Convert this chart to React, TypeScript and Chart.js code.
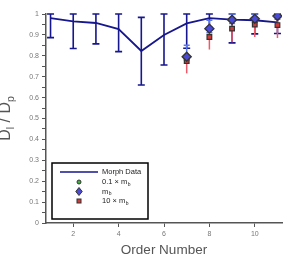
import React, { useEffect, useRef } from 'react';
import { Chart, registerables } from 'chart.js';
Chart.register(...registerables);

const FONT = '"Liberation Sans", Arial, sans-serif';

// Morphological data
const orders = [1, 2, 3, 4, 5, 6, 7, 8, 9, 10, 11];
const morphValues = [0.98, 0.965, 0.957, 0.928, 0.823, 0.9, 0.955, 0.98, 0.973, 0.97, 0.96];
const morphLow = [0.887, 0.835, 0.857, 0.82, 0.66, 0.756, 0.836, 0.935, 0.862, 0.905, 0.907];
const morphHigh = [1.0, 1.0, 1.0, 1.0, 0.984, 1.0, 1.0, 1.0, 1.0, 1.0, 1.0];

// Model results
const modelOrders = [7, 8, 9, 10, 11];
const lowMassValues = [0.8, 0.935, 0.975, 0.98, 0.99];
const baseMassValues = [0.795, 0.93, 0.973, 0.977, 0.99];
const baseMassLow = [0.78, 0.91, 0.955, 0.96, 0.975];
const baseMassHigh = [0.85, 0.97, 1.0, 1.0, 1.0];
const highMassValues = [0.775, 0.89, 0.93, 0.95, 0.947];
const highMassLow = [0.716, 0.83, 0.865, 0.89, 0.885];
const highMassHigh = [0.81, 0.955, 0.97, 0.985, 0.98];

const xTicks = [2, 4, 6, 8, 10];
const yTicks = [0, 0.1, 0.2, 0.3, 0.4, 0.5, 0.6, 0.7, 0.8, 0.9, 1];
const yMinorTicks = [0.05, 0.15, 0.25, 0.35, 0.45, 0.55, 0.65, 0.75, 0.85, 0.95];

const legendLabels = [
  { text: 'Morph Data', sub: '' },
  { text: '0.1 × m', sub: 'b' },
  { text: 'm', sub: 'b' },
  { text: '10 × m', sub: 'b' },
];
const xTitle = 'Order Number';

const NAVY = '#16168e';
const DIAMOND = '#4a4ad6';
const SQUARE = '#d23a3a';
const GREEN = '#3cb43c';
const EDGE = '#333333';

export default function App() {
  const ref = useRef<HTMLCanvasElement>(null);
  useEffect(() => {
    document.body.style.margin = '0';
    const canvas = ref.current!;

    const drawBars = (chart: any, xs: number[], lows: number[], highs: number[], color: string, width: number, cap: number) => {
      const ctx = chart.ctx;
      const xs_ = chart.scales.x;
      const ys_ = chart.scales.y;
      ctx.save();
      ctx.strokeStyle = color;
      ctx.lineWidth = width;
      for (let i = 0; i < xs.length; i++) {
        const x = xs_.getPixelForValue(xs[i]);
        const y1 = ys_.getPixelForValue(lows[i]);
        const y2 = ys_.getPixelForValue(highs[i]);
        ctx.beginPath();
        ctx.moveTo(x, y1);
        ctx.lineTo(x, y2);
        if (cap > 0) {
          ctx.moveTo(x - cap, y1);
          ctx.lineTo(x + cap, y1);
          ctx.moveTo(x - cap, y2);
          ctx.lineTo(x + cap, y2);
        }
        ctx.stroke();
      }
      ctx.restore();
    };

    const errorBars = {
      id: 'errorBars',
      beforeDatasetsDraw(chart: any) {
        drawBars(chart, orders, morphLow, morphHigh, NAVY, 1.6, 3.5);
        drawBars(chart, modelOrders, baseMassLow, baseMassHigh, '#5a78ee', 1.5, 3);
        drawBars(chart, modelOrders, highMassLow, highMassHigh, '#ee5a6a', 1.5, 0);
      },
    };

    const drawSubText = (ctx: any, x: number, y: number, text: string, sub: string, size: number, subSize: number, subOff: number) => {
      ctx.font = `${size}px ${FONT}`;
      ctx.fillText(text, x, y);
      const w = ctx.measureText(text).width;
      if (sub) {
        ctx.font = `${subSize}px ${FONT}`;
        ctx.fillText(sub, x + w + 0.5, y + subOff);
      }
    };

    const overlay = {
      id: 'overlay',
      afterDraw(chart: any) {
        const ctx = chart.ctx;
        const area = chart.chartArea;
        ctx.save();
        // Legend box
        const bx = area.left + 6, by = area.top + 149, bw = 96, bh = 56;
        ctx.fillStyle = '#ffffff';
        ctx.fillRect(bx, by, bw, bh);
        ctx.strokeStyle = '#000';
        ctx.lineWidth = 1.5;
        ctx.strokeRect(bx, by, bw, bh);
        const rowY = [by + 9, by + 19, by + 28.5, by + 38];
        const mx = bx + 27;
        // line
        ctx.strokeStyle = NAVY;
        ctx.lineWidth = 1.6;
        ctx.beginPath();
        ctx.moveTo(bx + 8, rowY[0]);
        ctx.lineTo(bx + 46, rowY[0]);
        ctx.stroke();
        // green circle
        ctx.lineWidth = 1;
        ctx.strokeStyle = EDGE;
        ctx.fillStyle = GREEN;
        ctx.beginPath();
        ctx.arc(mx, rowY[1], 2, 0, Math.PI * 2);
        ctx.fill();
        ctx.stroke();
        // diamond
        ctx.fillStyle = DIAMOND;
        ctx.beginPath();
        ctx.moveTo(mx, rowY[2] - 4);
        ctx.lineTo(mx + 3.2, rowY[2]);
        ctx.lineTo(mx, rowY[2] + 4);
        ctx.lineTo(mx - 3.2, rowY[2]);
        ctx.closePath();
        ctx.fill();
        ctx.stroke();
        // square
        ctx.fillStyle = SQUARE;
        ctx.fillRect(mx - 2, rowY[3] - 2, 4, 4);
        ctx.strokeRect(mx - 2, rowY[3] - 2, 4, 4);
        // texts
        ctx.fillStyle = '#222';
        ctx.textBaseline = 'middle';
        ctx.textAlign = 'left';
        legendLabels.forEach((l, i) => {
          drawSubText(ctx, bx + 50, rowY[i], l.text, l.sub, 7.5, 5, 2.5);
        });
        // X title
        ctx.fillStyle = '#555';
        ctx.textAlign = 'center';
        ctx.textBaseline = 'middle';
        ctx.font = `13.5px ${FONT}`;
        ctx.fillText(xTitle, (area.left + area.right) / 2, 250.5);
        // Y title
        ctx.translate(9.5, (area.top + area.bottom) / 2);
        ctx.rotate(-Math.PI / 2);
        ctx.textAlign = 'left';
        ctx.textBaseline = 'alphabetic';
        const big = `16px ${FONT}`;
        const small = `10.5px ${FONT}`;
        const parts = [
          { t: 'D', f: big, dy: 0 },
          { t: 'l', f: small, dy: 4 },
          { t: ' / ', f: big, dy: 0 },
          { t: 'D', f: big, dy: 0 },
          { t: 'p', f: small, dy: 4 },
        ];
        let total = 0;
        parts.forEach((p) => { ctx.font = p.f; total += ctx.measureText(p.t).width; });
        let cx = -total / 2;
        parts.forEach((p) => {
          ctx.font = p.f;
          ctx.fillText(p.t, cx, p.dy);
          cx += ctx.measureText(p.t).width;
        });
        ctx.restore();
      },
    };

    const chart = new Chart(canvas, {
      type: 'line',
      data: {
        datasets: [
          {
            label: 'Morph Data',
            data: orders.map((o, i) => ({ x: o, y: morphValues[i] })),
            borderColor: NAVY,
            borderWidth: 1.8,
            pointRadius: 0,
            fill: false,
            order: 4,
          },
          {
            label: '10 × m_b',
            data: modelOrders.map((o, i) => ({ x: o, y: highMassValues[i] })),
            showLine: false,
            pointStyle: 'rect',
            pointRadius: 3.3,
            backgroundColor: SQUARE,
            borderColor: EDGE,
            borderWidth: 1.2,
            order: 3,
          },
          {
            label: '0.1 × m_b',
            data: modelOrders.map((o, i) => ({ x: o, y: lowMassValues[i] })),
            showLine: false,
            pointStyle: 'circle',
            pointRadius: 2.2,
            backgroundColor: GREEN,
            borderColor: EDGE,
            borderWidth: 1,
            order: 2,
          },
          {
            label: 'm_b',
            data: modelOrders.map((o, i) => ({ x: o, y: baseMassValues[i] })),
            showLine: false,
            pointStyle: 'rectRot',
            pointRadius: 4.5,
            backgroundColor: DIAMOND,
            borderColor: EDGE,
            borderWidth: 1.4,
            order: 1,
          },
        ],
      },
      options: {
        responsive: false,
        animation: false,
        events: [],
        layout: { padding: { left: 0, right: 9, top: 14, bottom: 0 } },
        plugins: { legend: { display: false }, tooltip: { enabled: false }, title: { display: false } },
        scales: {
          x: {
            type: 'linear',
            min: 0.8,
            max: 11.2,
            afterBuildTicks: (s: any) => { s.ticks = xTicks.map((v) => ({ value: v })); },
            afterFit: (s: any) => { s.height = 36; },
            ticks: { color: '#777', font: { family: FONT, size: 7 }, padding: 3, maxRotation: 0 },
            grid: { display: true, drawOnChartArea: false, drawTicks: true, tickLength: 4, color: '#555', lineWidth: 1 },
            border: { display: true, color: '#555', width: 1.5 },
          },
          y: {
            type: 'linear',
            min: 0,
            max: 1,
            afterBuildTicks: (s: any) => {
              s.ticks = [...yTicks, ...yMinorTicks].sort((a, b) => a - b).map((v) => ({ value: v }));
            },
            afterFit: (s: any) => { s.width = 46; },
            ticks: {
              color: '#777',
              font: { family: FONT, size: 7 },
              padding: 3,
              autoSkip: false,
              callback: (v: any) => {
                const n = Math.round(Number(v) * 100);
                return n % 10 === 0 ? String(n / 100) : '';
              },
            },
            grid: { display: true, drawOnChartArea: false, drawTicks: true, tickLength: 4, color: '#555', lineWidth: 1 },
            border: { display: true, color: '#555', width: 1.5 },
          },
        },
      },
      plugins: [errorBars, overlay],
    } as any);
    return () => chart.destroy();
  }, []);
  return <canvas ref={ref} width={291} height={259} style={{ display: 'block' }} />;
}
